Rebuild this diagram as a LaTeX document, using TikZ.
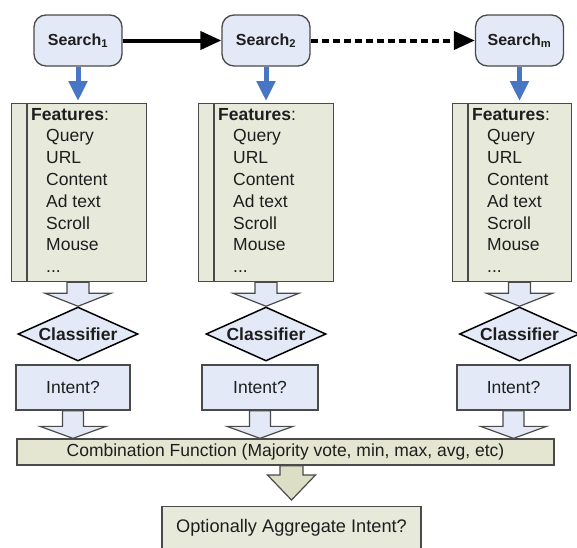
\documentclass[tikz,border=0pt]{standalone}
\usepackage{fontspec}
\setmainfont{Liberation Sans}
\usetikzlibrary{arrows.meta,shapes.geometric,calc}

\definecolor{bluefill}{HTML}{E3E9F6}
\definecolor{featfill}{HTML}{E7E9DB}
\definecolor{combfill}{HTML}{E4E6D2}
\definecolor{downfill}{HTML}{DCDFC6}
\definecolor{edge}{HTML}{4A4A4A}
\definecolor{linkblue}{HTML}{4676C4}
\definecolor{ink}{HTML}{1E1E1E}

% trailing entry of the feature list
\newcommand\moredots{...}

% hollow block arrow: style, start, tip, shaft half-width, head half-width, head length
\newcommand\blockarrow[6]{%
  \filldraw[#1] let \p1=#2, \p2=#3 in
    (\x1-#4,\y1) -- (\x1+#4,\y1) -- (\x1+#4,\y2+#6) -- (\x1+#5,\y2+#6)
    -- (\x1,\y2) -- (\x1-#5,\y2+#6) -- (\x1-#4,\y2+#6) -- cycle;}

\tikzset{
  txt/.style={font=\fontsize{17.5}{21}\selectfont, text=ink},
  searchbox/.style={draw=edge, fill=bluefill, line width=1.3pt, rounded corners=12pt,
    minimum width=88pt, minimum height=51pt, inner sep=0pt,
    font=\fontsize{16}{19}\selectfont\bfseries, text=ink},
  featbox/.style={draw=edge, fill=featfill, line width=1.3pt, inner sep=0pt,
    minimum height=178pt, anchor=north west},
  featrule/.style={draw=edge, line width=1.3pt},
  item/.style={txt, inner sep=0pt, anchor=base west},
  classbox/.style={shape=diamond, draw=black, fill=bluefill, line width=1.5pt,
    aspect=2.2, inner sep=0pt, minimum width=120pt, minimum height=54pt,
    font=\fontsize{17.5}{21}\selectfont\bfseries, text=ink},
  intentbox/.style={txt, draw=edge, fill=bluefill, line width=1.3pt, inner sep=0pt,
    minimum height=45pt},
  combbox/.style={txt, draw=edge, fill=combfill, line width=1.3pt, inner sep=0pt,
    minimum width=537pt, minimum height=26pt},
  aggbox/.style={draw=edge, fill=featfill, line width=1.3pt, inner sep=0pt,
    minimum width=259pt, minimum height=60pt, anchor=north},
  hollow/.style={draw=edge, fill=bluefill, line width=1.2pt, line join=miter},
  hollowdown/.style={draw=edge, fill=downfill, line width=1.2pt, line join=miter},
  seqarrow/.style={draw=black, line width=4pt, -{Triangle[length=21pt,width=18pt]}},
  feedarrow/.style={draw=linkblue, line width=5pt, shorten >=2pt,
    -{Triangle[length=20pt,width=18pt]}},
}

\begin{document}
\begin{tikzpicture}[x=1pt,y=-1pt]
\useasboundingbox (0,0) rectangle (577,547);

% one column per search: search box, feature list, classifier, intent
\foreach \c/\sx/\fl/\fr/\il/\ir/\sub in
  {1/78/11/146/16/130/1, 2/266/198/333/202/318/2, 3/519.5/452/571/457/570/m}{
  \node[searchbox] (s\c) at (\sx,40.5) {Search\textsubscript{\sub}};
  \node[featbox, minimum width={(\fr-\fl)*1pt}] (f\c) at (\fl,103) {};
  \draw[featrule] ([xshift=16pt]f\c.north west) -- ([xshift=16pt]f\c.south west);
  \node[item] (f\c-0) at (\fl+20,120) {\textbf{Features}:};
  \foreach \t [count=\i] in {Query,URL,Content,Ad text,Scroll,Mouse,\moredots}
    \node[item] (f\c-\i) at (\fl+35,{120+21.8*\i}) {\t};
  \draw[feedarrow] (s\c.south) -- (s\c |- f\c.north);
  \node[classbox] (d\c) at (\sx,334) {Classifier};
  \node[intentbox, minimum width={(\ir-\il)*1pt}] (i\c) at ({(\il+\ir)/2},387.5) {Intent?};
}

\node[combbox] (comb) at (285.5,452)
  {Combination Function (Majority vote, min, max, avg, etc)};
\node[aggbox] (agg) at (291.5,506) {};
\node[txt, font=\fontsize{18.2}{21}\selectfont, inner sep=0pt] (aggtext) at (291.5,528)
  {Optionally Aggregate Intent?};

% hollow arrows between the stages
\foreach \c in {1,2,3}{
  \blockarrow{hollow}{(s\c |- f\c.south)}{(s\c |- d\c.north)}{11}{33}{13}
  \blockarrow{hollow}{(i\c.south)}{(i\c.south |- comb.north)}{10.5}{33}{12}
}
\blockarrow{hollowdown}{(agg.north |- comb.south)}{([yshift=6pt]agg.north)}{11.5}{24}{25}

% sequence of searches
\draw[seqarrow] (s1.east) -- (s2.west);
\draw[seqarrow, dash pattern=on 7pt off 4pt] (s2.east) -- (s3.west);
\end{tikzpicture}
\end{document}
